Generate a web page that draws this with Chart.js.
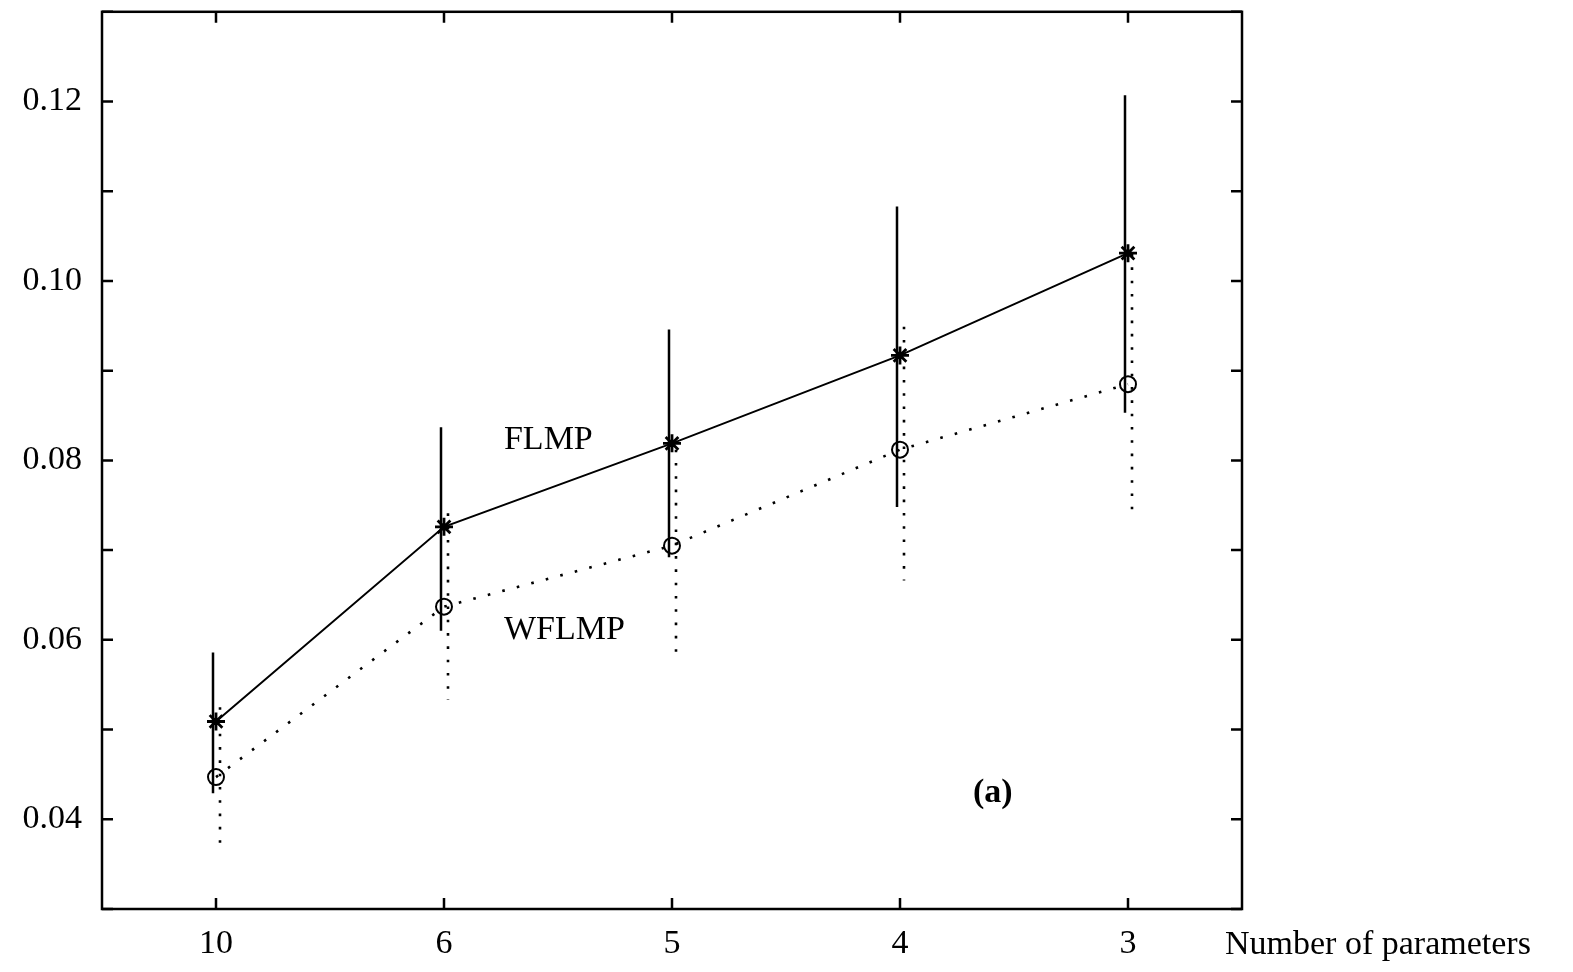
<!DOCTYPE html>
<html>
<head>
<meta charset="utf-8">
<script src="https://cdn.jsdelivr.net/npm/chart.js@4/dist/chart.umd.min.js"></script>
<style>
html, body { margin: 0; padding: 0; background: #fff; }
</style>
</head>
<body>
<canvas id="chart" width="1573" height="972"></canvas>
<script>
const params = ['10', '6', '5', '4', '3'];
const flmp = [0.0509, 0.0726, 0.0819, 0.0917, 0.1031];
const flmpLow = [0.0429, 0.0610, 0.0692, 0.0748, 0.0853];
const flmpHigh = [0.0586, 0.0837, 0.0946, 0.1083, 0.1207];
const wflmp = [0.0447, 0.0637, 0.0705, 0.0812, 0.0885];
const wflmpLow = [0.0367, 0.0533, 0.0578, 0.0666, 0.0738];
const wflmpHigh = [0.0525, 0.0741, 0.0812, 0.0949, 0.1030];

const serif = "'Liberation Serif', 'Times New Roman', serif";
const fontSize = 34;

// text labels placed in data units (category index, value)
const notes = [
    {text: 'FLMP', x: 1.263, y: 0.0823, bold: false},
    {text: 'WFLMP', x: 1.263, y: 0.0611, bold: false},
    {text: '(a)', x: 3.32, y: 0.0429, bold: true}
];

const errorBars = {
    id: 'errorBars',
    beforeDatasetsDraw(chart) {
        const {ctx, scales: {x, y}} = chart;
        ctx.save();
        ctx.strokeStyle = '#000';
        // FLMP: solid bars
        ctx.lineWidth = 2.5;
        ctx.setLineDash([]);
        ctx.beginPath();
        params.forEach((p, i) => {
            const px = x.getPixelForValue(i) - 3;
            ctx.moveTo(px, y.getPixelForValue(flmpHigh[i]));
            ctx.lineTo(px, y.getPixelForValue(flmpLow[i]));
        });
        ctx.stroke();
        // WFLMP: dotted bars
        ctx.lineWidth = 2.6;
        ctx.setLineDash([2.6, 10.7]);
        params.forEach((p, i) => {
            const px = x.getPixelForValue(i) + 4;
            ctx.beginPath();
            ctx.moveTo(px, y.getPixelForValue(wflmpHigh[i]));
            ctx.lineTo(px, y.getPixelForValue(wflmpLow[i]));
            ctx.stroke();
        });
        ctx.restore();
    },
    afterDraw(chart) {
        const {ctx, chartArea: a, scales: {x, y}} = chart;
        ctx.save();
        ctx.strokeStyle = '#000';
        ctx.lineWidth = 2.5;
        ctx.strokeRect(a.left, a.top, a.right - a.left, a.bottom - a.top);
        // inward ticks on all four sides
        ctx.beginPath();
        x.ticks.forEach((t, i) => {
            const px = x.getPixelForTick(i);
            ctx.moveTo(px, a.bottom); ctx.lineTo(px, a.bottom - 11);
            ctx.moveTo(px, a.top); ctx.lineTo(px, a.top + 11);
        });
        y.ticks.forEach((t, i) => {
            const py = y.getPixelForTick(i);
            ctx.moveTo(a.left, py); ctx.lineTo(a.left + 11, py);
            ctx.moveTo(a.right, py); ctx.lineTo(a.right - 11, py);
        });
        ctx.stroke();
        // annotations
        ctx.fillStyle = '#000';
        ctx.textBaseline = 'middle';
        ctx.textAlign = 'left';
        for (const n of notes) {
            ctx.font = (n.bold ? 'bold ' : '') + fontSize + 'px ' + serif;
            ctx.fillText(n.text, x.getPixelForValue(n.x), y.getPixelForValue(n.y));
        }
        ctx.font = fontSize + 'px ' + serif;
        ctx.fillText('Number of parameters', a.right - 17, 945);
        ctx.restore();
    }
};

Chart.defaults.font.family = serif;
Chart.defaults.font.size = fontSize;
Chart.defaults.color = '#000';

new Chart(document.getElementById('chart'), {
    type: 'line',
    data: {
        labels: params,
        datasets: [
            {
                label: 'FLMP',
                data: flmp,
                borderColor: '#000',
                borderWidth: 2,
                pointStyle: 'star',
                pointRadius: 9,
                pointBorderWidth: 2.8,
                pointBorderColor: '#000',
                tension: 0
            },
            {
                label: 'WFLMP',
                data: wflmp,
                borderColor: '#000',
                borderWidth: 2.6,
                borderDash: [2.6, 12.4],
                pointStyle: 'circle',
                pointRadius: 8,
                pointBorderWidth: 2,
                pointBorderColor: '#000',
                pointBackgroundColor: 'rgba(0,0,0,0)',
                tension: 0
            }
        ]
    },
    options: {
        responsive: false,
        animation: false,
        layout: {padding: {top: 8, right: 331, left: 0, bottom: 0}},
        plugins: {
            legend: {display: false},
            tooltip: {enabled: false}
        },
        scales: {
            x: {
                offset: true,
                grid: {display: false, drawTicks: false},
                border: {display: false},
                ticks: {padding: 15},
                afterFit(scale) {
                    scale.height = 63;
                    scale.paddingLeft = 0;
                    scale.paddingRight = 0;
                }
            },
            y: {
                min: 0.03,
                max: 0.13,
                grid: {display: false, drawTicks: false},
                border: {display: false},
                ticks: {
                    stepSize: 0.01,
                    padding: 20,
                    callback: (v) => Math.round(v * 100) % 2 === 0 ? v.toFixed(2) : ''
                },
                afterFit(scale) {
                    scale.width = 102;
                    scale.paddingTop = 0;
                    scale.paddingBottom = 0;
                }
            }
        }
    },
    plugins: [errorBars]
});
</script>
</body>
</html>
